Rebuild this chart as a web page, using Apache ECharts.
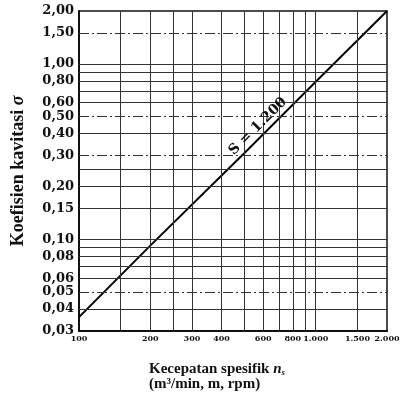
<!DOCTYPE html>
<html>
<head>
<meta charset="utf-8">
<script src="https://cdn.jsdelivr.net/npm/echarts@6/dist/echarts.min.js"></script>
<style>
html, body { margin: 0; padding: 0; background: #fff; }
#chart { width: 401px; height: 396px; }
</style>
</head>
<body>
<div id="chart"></div>
<script>
// garis S = 1.200
const nsValues = [100, 200, 500, 1000, 2000]
const sigmaValues = [0.036, 0.092, 0.31, 0.79, 2.0]

// garis kisi
const xGridValues = [150, 200, 250, 300, 400, 500, 600, 700, 800, 900, 1000, 1500]
const yGridValues = [0.04, 0.05, 0.06, 0.07, 0.08, 0.09, 0.1, 0.15, 0.2, 0.25, 0.3, 0.4, 0.5, 0.6, 0.7, 0.8, 0.9, 1.0, 1.5]
const yDashed = [0.05, 0.3, 0.5, 1.5]

// label sumbu
const xTickValues = [100, 200, 300, 400, 600, 800, 1000, 1500, 2000]
const xTickLabels = ['100', '200', '300', '400', '600', '800', '1.000', '1.500', '2.000']
const yTickValues = [0.03, 0.04, 0.05, 0.06, 0.08, 0.1, 0.15, 0.2, 0.3, 0.4, 0.5, 0.6, 0.8, 1.0, 1.5, 2.0]
const yTickLabels = ['0,03', '0,04', '0,05', '0,06', '0,08', '0,10', '0,15', '0,20', '0,30', '0,40', '0,50', '0,60', '0,80', '1,00', '1,50', '2,00']

const lineLabel = { text: 'S = 1.200', ns: 570, sigma: 0.44 }

const chart = echarts.init(document.getElementById('chart'))

const serif = '"DejaVu Serif", "Liberation Serif", serif'
const hidden = { color: 'rgba(0,0,0,0)', width: 0 }

const markData = []
xGridValues.forEach(v => {
    markData.push({ xAxis: v, label: { show: false } })
})
yGridValues.forEach(v => {
    markData.push({
        yAxis: v,
        label: { show: false },
        lineStyle: yDashed.indexOf(v) >= 0 ? { type: [10, 3, 2, 3] } : {}
    })
})
xTickValues.forEach((v, i) => {
    markData.push({
        xAxis: v,
        lineStyle: hidden,
        label: {
            show: true,
            position: 'start',
            distance: 4,
            formatter: xTickLabels[i],
            fontFamily: serif,
            fontWeight: 'bold',
            fontSize: 8,
            color: '#111'
        }
    })
})
yTickValues.forEach((v, i) => {
    markData.push({
        yAxis: v,
        lineStyle: hidden,
        label: {
            show: true,
            position: 'start',
            distance: 5,
            formatter: yTickLabels[i],
            fontFamily: serif,
            fontWeight: 'bold',
            fontSize: 13,
            color: '#111'
        }
    })
})

chart.setOption({
    backgroundColor: '#fff',
    animation: false,
    grid: {
        left: 79,
        right: 14,
        top: 11,
        bottom: 65,
        outerBoundsMode: 'none',
        show: true,
        borderColor: '#111',
        borderWidth: 1.5
    },
    xAxis: {
        type: 'log',
        logBase: 10,
        min: 100,
        max: 2000,
        axisLine: { lineStyle: { color: '#111', width: 2 } },
        axisTick: { show: false },
        axisLabel: { show: false },
        splitLine: { show: false },
        minorSplitLine: { show: false }
    },
    yAxis: {
        type: 'log',
        logBase: 10,
        min: 0.03,
        max: 2,
        name: 'Koefisien kavitasi {i|σ}',
        nameLocation: 'middle',
        nameGap: 52,
        nameTextStyle: {
            fontFamily: '"Liberation Serif", serif',
            fontWeight: 'bold',
            fontSize: 18,
            color: '#111',
            rich: {
                i: {
                    fontFamily: '"Liberation Serif", serif',
                    fontStyle: 'italic',
                    fontWeight: 'bold',
                    fontSize: 18,
                    color: '#111'
                }
            }
        },
        axisLine: { lineStyle: { color: '#111', width: 2 } },
        axisTick: { show: false },
        axisLabel: { show: false },
        splitLine: { show: false }
    },
    series: [
        {
            type: 'line',
            data: nsValues.map((v, i) => [v, sigmaValues[i]]),
            symbol: 'none',
            lineStyle: { color: '#000', width: 2 },
            z: 3,
            markLine: {
                silent: true,
                symbol: 'none',
                animation: false,
                lineStyle: { color: '#333', width: 1, type: 'solid' },
                data: markData
            }
        }
    ]
})

const p = chart.convertToPixel({ gridIndex: 0 }, [lineLabel.ns, lineLabel.sigma])
chart.setOption({
    graphic: [
        {
            type: 'text',
            x: p[0],
            y: p[1],
            rotation: Math.PI / 4,
            z: 10,
            style: {
                text: lineLabel.text,
                font: 'bold 14px ' + serif,
                fill: '#111',
                align: 'center',
                verticalAlign: 'middle'
            }
        },
        {
            type: 'text',
            left: 149,
            top: 362,
            style: {
                text: '{a|Kecepatan spesifik }{i|n}{s|s}\n{a|(m³/min, m, rpm)}',
                rich: {
                    a: { font: 'bold 15px "Liberation Serif", serif', fill: '#111', lineHeight: 15 },
                    i: { font: 'italic bold 15px "Liberation Serif", serif', fill: '#111', lineHeight: 15 },
                    s: { font: 'italic bold 9px "Liberation Serif", serif', fill: '#111', lineHeight: 15, padding: [6, 0, 0, 0] }
                }
            }
        }
    ]
})
</script>
</body>
</html>
